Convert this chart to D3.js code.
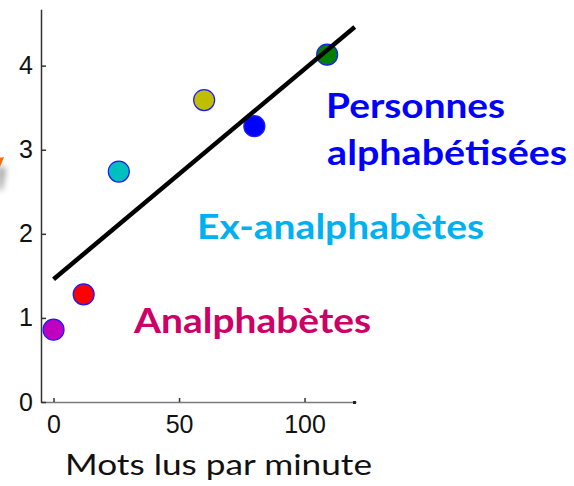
<!DOCTYPE html>
<html>
<head>
<meta charset="utf-8">
<script src="https://cdn.jsdelivr.net/npm/d3@7"></script>
<style>
  html, body { margin: 0; padding: 0; background: #fff; }
  svg { display: block; }
</style>
</head>
<body>
<svg id="chart" width="574" height="486"></svg>
<script>
// ---- data ----
const groups = ["Analphabète A", "Analphabète B", "Ex-analphabète A", "Ex-analphabète B", "Alphabétisé A", "Alphabétisé B"];
const wordsPerMinute = [0, 12, 26, 60, 80, 109];
const scores = [0.86, 1.28, 2.74, 3.59, 3.28, 4.13];
const pointColors = ["#bf00bf", "#ff0000", "#00bfbf", "#bfbf00", "#0000ff", "#008000"];
const fitX = [0, 120];
const fitY = [1.46, 4.46];
const xTicks = [0, 50, 100];
const yTicks = [0, 1, 2, 3, 4];
const labelTexts = ["Personnes", "alphabétisées", "Ex-analphabètes", "Analphabètes"];
const labelAtX = [108.6, 109, 57.2, 32.1];
const labelAtY = [3.38, 2.82, 1.94, 0.82];
const labelColors = ["#0000ff", "#0000ff", "#00b0f0", "#cc0066"];
const xTitle = "Mots lus par minute";

// ---- drawing ----
const svg = d3.select("#chart");
const x = d3.scaleLinear().domain([-5, 120.5]).range([41, 356]);
const y = d3.scaleLinear().domain([0, 4.67]).range([402, 9.3]);

// small orange arrow tip + shadow at left edge (decoration from the slide)
const defs = svg.append("defs");
const f = defs.append("filter").attr("id", "blur").attr("x", "-50%").attr("y", "-50%").attr("width", "200%").attr("height", "200%");
f.append("feGaussianBlur").attr("stdDeviation", 3);
svg.append("path").attr("d", "M-2,166 L6,168 L2,190 L-2,190 Z").attr("fill", "#888").attr("filter", "url(#blur)").attr("opacity", 0.8);
svg.append("path").attr("d", "M-1,158 L4,157 L0,167 Z").attr("fill", "#ff6a00");

// axes
const xAxis = d3.axisBottom(x).tickValues(xTicks).tickFormat(d3.format("d")).tickSizeInner(-4).tickSizeOuter(0).tickPadding(13);
const yAxis = d3.axisLeft(y).tickValues(yTicks).tickFormat(d3.format("d")).tickSizeInner(-5).tickSizeOuter(0).tickPadding(8);

const gx = svg.append("g").attr("transform", `translate(0,${y(0)})`).call(xAxis);
gx.select(".domain").attr("stroke", "#7a7a7a").attr("stroke-width", 1.6);
gx.selectAll(".tick line").attr("stroke", "#333").attr("stroke-width", 1.5);
gx.selectAll("text").attr("font-family", "Liberation Sans, Arial, sans-serif").attr("font-size", 25).attr("fill", "#111");

const gy = svg.append("g").attr("transform", `translate(${x(-5)},0)`).call(yAxis);
gy.select(".domain").attr("stroke", "#333").attr("stroke-width", 1.5);
gy.selectAll(".tick line").attr("stroke", "#333").attr("stroke-width", 1.5);
gy.selectAll("text").attr("font-family", "Liberation Sans, Arial, sans-serif").attr("font-size", 25).attr("fill", "#111");

// small end marker on x-axis
svg.append("rect").attr("x", x(120.5) - 3).attr("y", y(0) - 1).attr("width", 3).attr("height", 3).attr("fill", "#222");

// points
svg.append("g").selectAll("circle")
  .data(groups.map((g, i) => ({ g, wx: wordsPerMinute[i], s: scores[i], c: pointColors[i] })))
  .join("circle")
  .attr("cx", d => x(d.wx))
  .attr("cy", d => y(d.s))
  .attr("r", 10.5)
  .attr("fill", d => d.c)
  .attr("stroke", "#1a1aff")
  .attr("stroke-width", 1.2);

// fit line
svg.append("path")
  .datum(fitX.map((v, i) => [v, fitY[i]]))
  .attr("d", d3.line().x(d => x(d[0])).y(d => y(d[1])))
  .attr("stroke", "#000").attr("stroke-width", 4.5).attr("fill", "none");

// group labels
const labelLens = [179, 240, 287, 237];
svg.append("g").selectAll("text")
  .data(labelTexts.map((t, i) => ({ t, lx: labelAtX[i], ly: labelAtY[i], c: labelColors[i], len: labelLens[i] })))
  .join("text")
  .attr("x", d => x(d.lx))
  .attr("y", d => y(d.ly))
  .attr("fill", d => d.c)
  .attr("font-family", "Lato, 'Open Sans', sans-serif")
  .attr("font-weight", "bold")
  .attr("font-size", 34)
  .attr("textLength", d => d.len)
  .attr("lengthAdjust", "spacingAndGlyphs")
  .text(d => d.t);

// axis title
svg.append("text")
  .attr("x", 65).attr("y", 475)
  .attr("font-family", "Lato, 'Open Sans', sans-serif")
  .attr("font-size", 28)
  .attr("fill", "#111")
  .attr("textLength", 307)
  .attr("lengthAdjust", "spacingAndGlyphs")
  .text(xTitle);
</script>
</body>
</html>
